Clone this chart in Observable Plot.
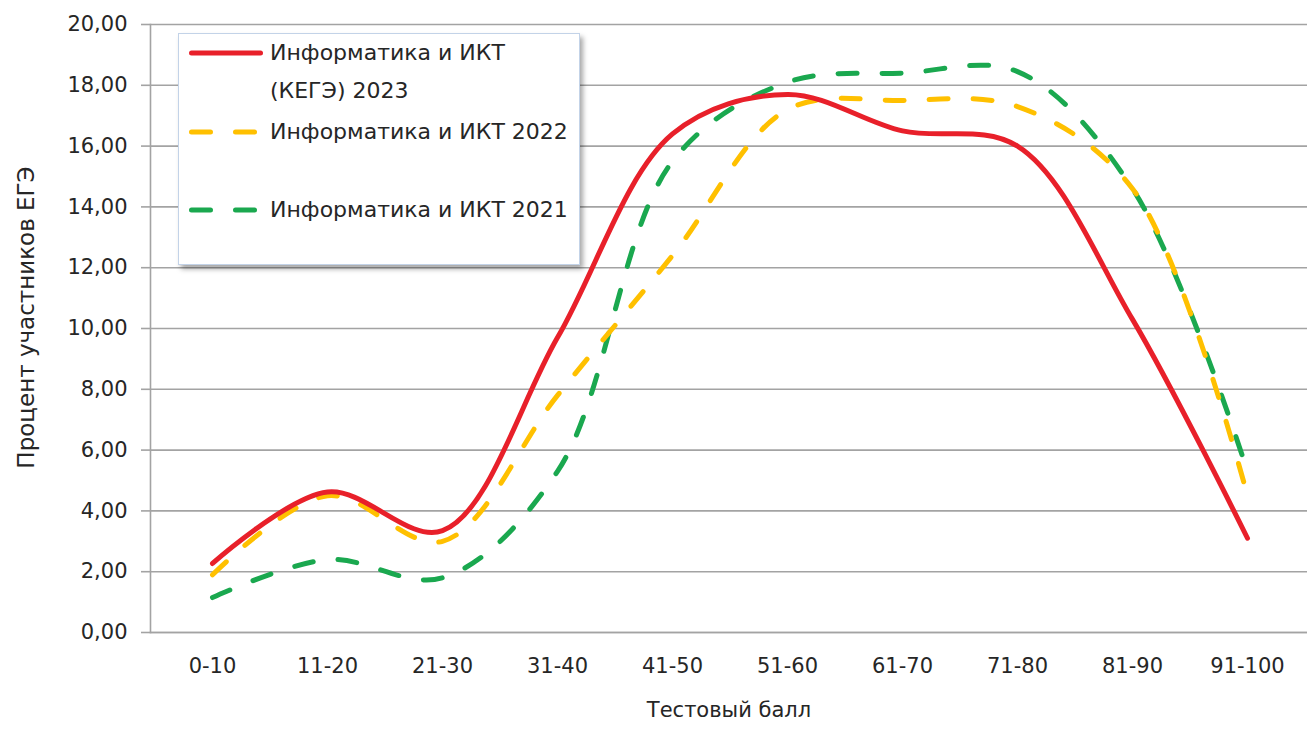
<!DOCTYPE html>
<html>
<head>
<meta charset="utf-8">
<script src="https://cdn.jsdelivr.net/npm/d3@7"></script>
<script src="https://cdn.jsdelivr.net/npm/@observablehq/plot@0.6"></script>
<style>
  body { margin: 0; background: #fff; font-family: "DejaVu Sans", sans-serif; }
  #wrap { position: relative; width: 1307px; height: 729px; overflow: hidden; }
  #legend { position: absolute; left: 178px; top: 33px; width: 402px; height: 232px; background: #fff;
            border: 1px solid #c3d3e8; box-sizing: border-box; box-shadow: 3px 4px 5px rgba(0,0,0,0.35); }
  .lg-sw { position: absolute; left: 0; }
  .lg-tx { position: absolute; left: 91px; font-size: 22px; color: #262626; line-height: 38px; white-space: nowrap; }
</style>
</head>
<body>
<div id="wrap"></div>
<script>
// ---- data ----
const categories = ["0-10","11-20","21-30","31-40","41-50","51-60","61-70","71-80","81-90","91-100"];
const series2023 = [2.27, 4.62, 3.35, 9.7, 16.4, 17.7, 16.5, 16.0, 10.3, 3.1];
const series2022 = [1.9, 4.5, 3.0, 7.8, 12.4, 17.2, 17.5, 17.3, 14.6, 4.5];
const series2021 = [1.15, 2.4, 1.8, 5.3, 15.5, 18.1, 18.4, 18.45, 14.6, 5.3];
const seriesNames = ["Информатика и ИКТ\n(КЕГЭ) 2023", "Информатика и ИКТ 2022", "Информатика и ИКТ 2021"];
const seriesColors = ["#e8202a", "#ffc000", "#1aa84f"];
const yTicks = [0, 2, 4, 6, 8, 10, 12, 14, 16, 18, 20];
const xTitle = "Тестовый балл";
const yTitle = "Процент участников ЕГЭ";

const toRows = (vals) => categories.map((c, i) => ({cat: c, value: vals[i]}));
const rows2023 = toRows(series2023), rows2022 = toRows(series2022), rows2021 = toRows(series2021);
const fmt = d => d3.format(".2f")(d).replace(".", ",");
const dash = "19,25";
const gridColor = "#a3a3a3";

const chart = Plot.plot({
  width: 1307, height: 729,
  marginLeft: 150, marginRight: 0, marginTop: 24, marginBottom: 97,
  style: {fontFamily: "DejaVu Sans", fontSize: "21px", color: "#262626", background: "#fff"},
  x: {type: "point", domain: categories, range: [151, 1307], padding: 0.5},
  y: {domain: [0, 20]},
  marks: [
    Plot.gridY(yTicks, {stroke: gridColor, strokeOpacity: 1, strokeWidth: 1.6}),
    Plot.frame({anchor: "left", stroke: gridColor, strokeWidth: 1.6}),
    Plot.frame({anchor: "bottom", stroke: gridColor, strokeWidth: 1.6}),
    Plot.axisY(yTicks, {tickSize: 9, tickPadding: 14, tickFormat: fmt, stroke: gridColor, strokeWidth: 1.6, fill: "#262626", fontSize: 21, label: null}),
    Plot.axisX({tickSize: 0, tickPadding: 26, fill: "#262626", fontSize: 21, label: null}),
    Plot.line(rows2021, {x: "cat", y: "value", stroke: seriesColors[2], strokeWidth: 5, strokeDasharray: dash, strokeLinecap: "round", curve: "catmull-rom"}),
    Plot.line(rows2022, {x: "cat", y: "value", stroke: seriesColors[1], strokeWidth: 5, strokeDasharray: dash, strokeLinecap: "round", curve: "catmull-rom"}),
    Plot.line(rows2023, {x: "cat", y: "value", stroke: seriesColors[0], strokeWidth: 5, strokeLinecap: "round", curve: "catmull-rom"}),
    Plot.text([xTitle], {frameAnchor: "bottom", dy: 84, text: d => d, fill: "#262626", fontSize: 21, textAnchor: "middle"}),
    Plot.text([yTitle], {frameAnchor: "left", dx: -124, dy: -11, rotate: -90, text: d => d, fill: "#262626", fontSize: 23, textAnchor: "middle"})
  ]
});
const wrap = document.getElementById("wrap");
wrap.appendChild(chart);

// ---- legend (overlay inside plot area) ----
const legend = document.createElement("div");
legend.id = "legend";
const rowCenters = [19, 98, 176];
seriesNames.forEach((name, i) => {
  const cy = rowCenters[i];
  const sw = document.createElementNS("http://www.w3.org/2000/svg", "svg");
  sw.setAttribute("class", "lg-sw");
  sw.setAttribute("width", 90); sw.setAttribute("height", 12);
  sw.style.top = (cy - 6) + "px";
  const ln = document.createElementNS("http://www.w3.org/2000/svg", "line");
  ln.setAttribute("x1", 12.5); ln.setAttribute("x2", 81.5);
  ln.setAttribute("y1", 6); ln.setAttribute("y2", 6);
  ln.setAttribute("stroke", seriesColors[i]); ln.setAttribute("stroke-width", 5);
  ln.setAttribute("stroke-linecap", "round");
  if (i > 0) ln.setAttribute("stroke-dasharray", dash);
  sw.appendChild(ln);
  legend.appendChild(sw);
  name.split("\n").forEach((line, j) => {
    const t = document.createElement("div");
    t.className = "lg-tx";
    t.textContent = line;
    t.style.top = (cy - 19 + j * 38) + "px";
    legend.appendChild(t);
  });
});
wrap.appendChild(legend);
</script>
</body>
</html>
